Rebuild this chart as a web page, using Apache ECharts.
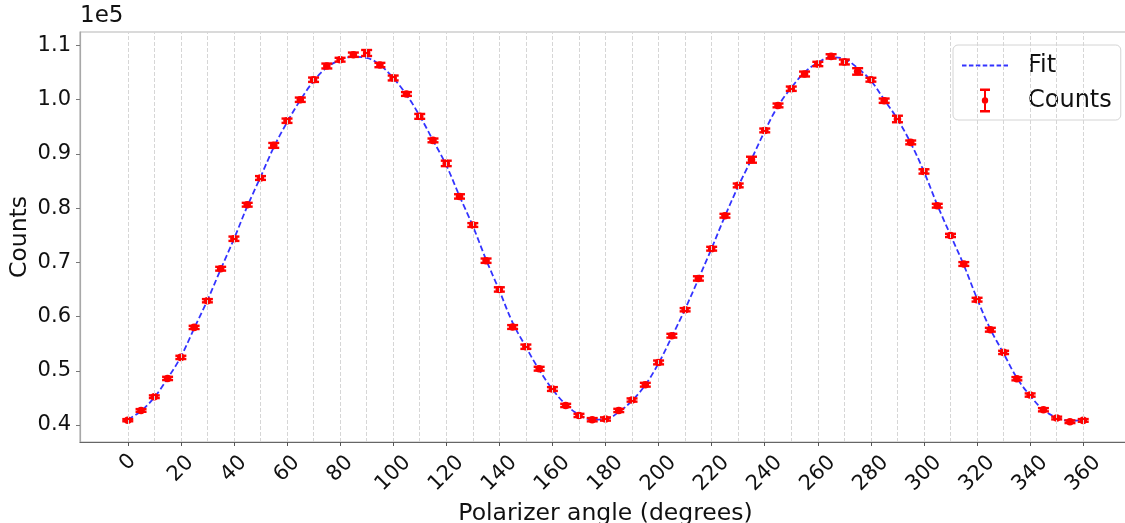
<!DOCTYPE html>
<html>
<head>
<meta charset="utf-8">
<script src="https://cdn.jsdelivr.net/npm/echarts@6/dist/echarts.min.js"></script>
<style>
  html, body { margin: 0; padding: 0; background: #fff; }
  #chart { width: 1125px; height: 523px; }
</style>
</head>
<body>
<div id="chart"></div>
<script>
// ---- Data ----
const angles = [0,5,10,15,20,25,30,35,40,45,50,55,60,65,70,75,80,85,90,95,100,105,110,115,120,125,130,135,140,145,150,155,160,165,170,175,180,185,190,195,200,205,210,215,220,225,230,235,240,245,250,255,260,265,270,275,280,285,290,295,300,305,310,315,320,325,330,335,340,345,350,355,360];

const counts = [40890,42690,45220,48590,52470,58000,62920,68820,74350,80620,85550,91560,96110,99980,103670,106200,107360,108280,108600,106380,103990,101040,96910,92480,88240,82150,76880,70300,65000,58070,54440,50380,46640,43610,41770,40980,41110,42690,44610,47430,51540,56470,61260,67030,72510,78590,84180,88920,94320,98930,102010,104720,106570,107970,106940,105200,103670,99800,96430,92110,86760,80440,74960,69690,63110,57570,53390,48540,45530,42820,41290,40610,40850];

const errors = [200,250,250,300,300,300,300,350,400,350,350,450,400,400,400,450,350,400,550,400,450,350,450,350,500,400,350,400,400,350,400,350,350,300,300,300,300,300,300,350,350,350,300,400,350,350,350,550,350,350,400,450,400,400,450,600,350,400,600,350,400,350,300,350,350,350,300,300,300,300,250,250,250];

const fitCounts = [41000,42600,45100,48600,52600,57800,63000,68700,74300,80300,85700,91200,95800,99900,103400,105900,107300,107900,107700,106400,104000,100900,97000,92500,87900,82200,76700,70500,64800,58900,54400,50200,46600,43800,41900,41000,41100,42400,44500,47400,51400,56300,61400,66900,72600,78500,84000,89000,94200,98800,102200,105000,106800,107800,107500,105800,103500,100000,96400,92000,86700,80600,75000,69500,63300,57700,53200,48700,45400,42800,41400,40800,40900];

const xTickValues = [0,20,40,60,80,100,120,140,160,180,200,220,240,260,280,300,320,340,360];
const yTickValues = [40000,50000,60000,70000,80000,90000,100000,110000];
const gridAngles = [0,10,20,30,40,50,60,70,80,90,100,110,120,130,140,150,160,170,180,190,200,210,220,230,240,250,260,270,280,290,300,310,320,330,340,350,360];

// ---- Chart ----
const FONT = 'DejaVu Sans';
const chart = echarts.init(document.getElementById('chart'), null, { renderer: 'canvas' });

const X_MIN = -18, X_MAX = 378;
const Y_MIN = 36870, Y_MAX = 112470;

function makeXAxis(group, margin, showLine) {
  const labelSet = xTickValues.filter(v => String(v).length === group);
  return {
    type: 'value',
    position: 'bottom',
    min: X_MIN, max: X_MAX,
    splitNumber: 20,
    axisLine: { show: showLine, onZero: false, lineStyle: { color: '#666', width: 1.2 } },
    axisTick: { show: showLine, length: 4, lineStyle: { color: '#555', width: 1 }, customValues: xTickValues },
    splitLine: { show: false },
    axisLabel: {
      show: true,
      customValues: labelSet,
      showMinLabel: true, showMaxLabel: true,
      rotate: 45,
      align: 'center',
      verticalAlign: 'middle',
      margin: margin,
      fontSize: 21,
      fontFamily: FONT,
      color: '#111',
      formatter: v => (labelSet.indexOf(v) >= 0 ? String(v) : '')
    },
    name: showLine ? 'Polarizer angle (degrees)' : '',
    nameLocation: 'middle',
    nameGap: 56,
    nameTextStyle: { fontSize: 23.5, fontFamily: FONT, color: '#111' }
  };
}

const option = {
  animation: false,
  backgroundColor: '#fff',
  grid: {
    left: 80, top: 32, right: -6, bottom: 81,
    outerBoundsMode: 'none',
    containLabel: false,
    show: true, borderColor: '#b5b5b5', borderWidth: 1.2, backgroundColor: 'transparent'
  },
  legend: {
    orient: 'vertical',
    left: 953, top: 45,
    padding: [4, 9, 3, 9],
    itemWidth: 46, itemHeight: 24, itemGap: 2,
    backgroundColor: 'rgba(255,255,255,0.85)',
    borderColor: '#d4d4d4', borderWidth: 1, borderRadius: 5,
    textStyle: { fontSize: 24, lineHeight: 24, fontFamily: FONT, color: '#111', padding: [9, 0, 0, 15] },
    data: [
      { name: 'Fit', icon: 'path://M0,0H4.5V2H0Z M6.9,0H11.4V2H6.9Z M13.8,0H18.3V2H13.8Z M20.7,0H25.2V2H20.7Z M27.6,0H32.1V2H27.6Z M34.5,0H39V2H34.5Z M41.4,0H45.9V2H41.4Z' },
      { name: 'Counts', icon: 'path://M0,0H10V2.4H0Z M4,0H6V24H4Z M0,21.6H10V24H0Z M1.8,12A3.2,3.2 0 1 1 8.2,12A3.2,3.2 0 1 1 1.8,12Z' }
    ]
  },
  xAxis: [
    makeXAxis(3, 31.5, true),
    makeXAxis(2, 27, false),
    makeXAxis(1, 20.5, false)
  ],
  yAxis: [{
    type: 'value',
    min: Y_MIN, max: Y_MAX,
    splitNumber: 7,
    name: '1e5',
    nameLocation: 'end',
    nameGap: 4,
    nameTextStyle: { fontSize: 23, fontFamily: FONT, color: '#111', align: 'left', verticalAlign: 'bottom' },
    axisLine: { show: true, onZero: false, lineStyle: { color: '#a8a8a8', width: 1.2 } },
    axisTick: { show: true, length: 4, lineStyle: { color: '#777' }, customValues: yTickValues },
    splitLine: { show: false },
    axisLabel: {
      customValues: yTickValues,
      showMinLabel: true, showMaxLabel: true,
      margin: 9,
      fontSize: 21,
      fontFamily: FONT,
      color: '#111',
      formatter: v => (yTickValues.indexOf(v) >= 0 ? (v / 1e5).toFixed(1) : '')
    }
  }, {
    type: 'value', min: Y_MIN, max: Y_MAX, position: 'left',
    axisLine: { show: false, onZero: false }, axisTick: { show: false }, axisLabel: { show: false }, splitLine: { show: false },
    name: 'Counts', nameLocation: 'middle', nameGap: 48, nameRotate: 90,
    nameTextStyle: { fontSize: 23.5, fontFamily: FONT, color: '#111' }
  }],
  series: [
    {
      name: 'grid',
      type: 'line',
      data: [],
      silent: true,
      z: 0,
      markLine: {
        silent: true,
        symbol: ['none', 'none'],
        label: { show: false },
        lineStyle: { color: '#d6d6d6', type: [4, 2], width: 1 },
        data: gridAngles.map(a => ({ xAxis: a }))
      }
    },
    {
      name: 'Fit',
      type: 'line',
      xAxisIndex: 0,
      data: angles.map((a, i) => [a, fitCounts[i]]),
      smooth: 0.4,
      symbol: 'none',
      showSymbol: false,
      z: 3,
      lineStyle: { color: 'rgba(0,0,255,0.8)', width: 1.8, type: [6, 3] },
      itemStyle: { color: 'rgba(0,0,255,0.8)' }
    },
    {
      name: 'Counts',
      type: 'custom',
      xAxisIndex: 0,
      z: 4,
      itemStyle: { color: '#ff0000' },
      data: angles.map((a, i) => [a, counts[i], errors[i]]),
      encode: { x: 0, y: 1 },
      renderItem: function (params, api) {
        const x = api.value(0), y = api.value(1), e = api.value(2);
        const c = api.coord([x, y]);
        const t = api.coord([x, y + e]);
        const b = api.coord([x, y - e]);
        const hw = 5.5;
        const st = { stroke: '#ff0000', lineWidth: 2.4 };
        return {
          type: 'group',
          children: [
            { type: 'line', shape: { x1: c[0], y1: t[1], x2: c[0], y2: b[1] }, style: st },
            { type: 'line', shape: { x1: c[0] - hw, y1: t[1], x2: c[0] + hw, y2: t[1] }, style: st },
            { type: 'line', shape: { x1: c[0] - hw, y1: b[1], x2: c[0] + hw, y2: b[1] }, style: st },
            { type: 'circle', shape: { cx: c[0], cy: c[1], r: 3.8 }, style: { fill: '#ff0000' } }
          ]
        };
      }
    }
  ]
};

chart.setOption(option);
</script>
</body>
</html>
